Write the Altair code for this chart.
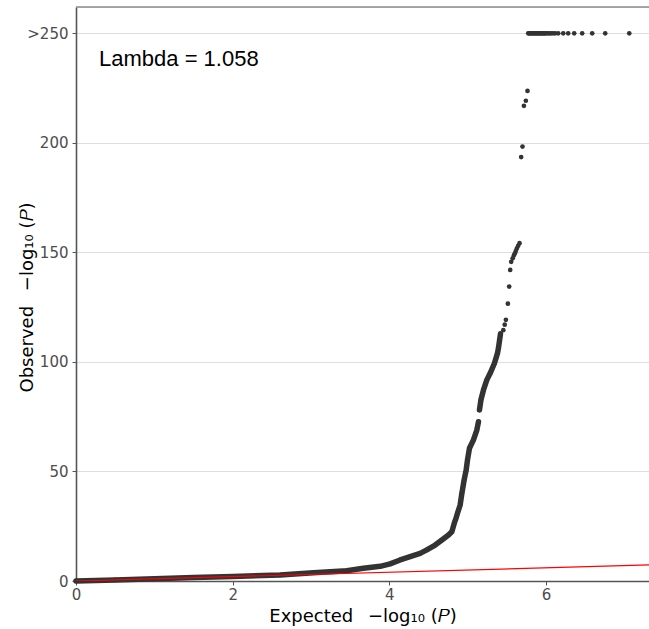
import altair as alt
import pandas as pd

# Expected vs observed -log10(P) along the densely packed part of the QQ curve
trace_x = [0.0, 0.5, 1.0, 1.5, 2.0, 2.605, 3.031, 3.457, 3.669, 3.883, 4.010, 4.138,
           4.266, 4.393, 4.479, 4.585, 4.671, 4.755, 4.798, 4.830, 4.850, 4.870, 4.904,
           4.926, 4.955, 4.981, 4.998, 5.023, 5.074, 5.117, 5.138,
           5.151, 5.169, 5.202, 5.245, 5.287, 5.342, 5.381, 5.393, 5.419]
trace_y = [0.0, 0.5, 1.05, 1.6, 2.1, 2.74, 3.79, 4.70, 5.8, 6.7, 7.8, 9.6,
           11.1, 12.6, 14.2, 16.4, 18.7, 21.0, 22.5, 26.5, 28.5, 30.9, 34.7,
           40.0, 46.1, 50.7, 55.3, 60.6, 64.4, 68.9, 72.7,
           78.1, 82.6, 87.2, 91.8, 94.8, 99.4, 104.0, 106.3, 112.8]
trace_seg = [1] * 31 + [2] * 9

# Individually visible strong signals
dot_x = [5.455, 5.473, 5.488, 5.513, 5.530, 5.543, 5.556, 5.575, 5.590, 5.603, 5.615,
         5.628, 5.645, 5.662, 5.683, 5.700, 5.718, 5.743, 5.764]
dot_y = [114.5, 117.0, 119.2, 126.6, 134.4, 142.0, 145.7, 147.3, 148.6, 149.6, 150.6,
         151.8, 153.0, 154.2, 193.5, 198.3, 216.9, 219.2, 223.7]

# Signals beyond the cap, shown at the ">250" line
cap_x = [5.773, 5.786, 5.798, 5.811, 5.824, 5.837, 5.850, 5.862, 5.875, 5.888, 5.900,
         5.913, 5.926, 5.939, 5.952, 5.964, 5.977, 5.990, 6.005, 6.028, 6.045, 6.066,
         6.090, 6.117, 6.156, 6.220, 6.283, 6.360, 6.462, 6.590, 6.756, 7.063]
CAP = 250

y_ticks = [0, 50, 100, 150, 200, 250]
x_ticks = [0, 2, 4, 6]
X_MAX = 7.315
Y_MAX = 262

lambda_label = "Lambda = 1.058"

trace_df = pd.DataFrame({"x": trace_x, "y": trace_y, "seg": trace_seg})
dots_df = pd.DataFrame({"x": trace_x + dot_x + cap_x,
                        "y": trace_y + dot_y + [CAP] * len(cap_x)})
diag_df = pd.DataFrame({"x": [0, X_MAX], "y": [0, X_MAX]})
text_df = pd.DataFrame({"x": [0.294], "y": [235.0], "t": [lambda_label]})

AX_COLOR = "#555555"
x_scale = alt.Scale(domain=[0, X_MAX], nice=False, zero=False)
y_scale = alt.Scale(domain=[0, Y_MAX], nice=False, zero=False)

x_enc = alt.X("x:Q", scale=x_scale, axis=alt.Axis(
    values=x_ticks, format="d", grid=False, labelFlush=False,
    title="Expected \u2002\u2212log\u2081\u2080 (\U0001D443)",
    domainColor=AX_COLOR, domainWidth=1.6, tickColor=AX_COLOR, tickSize=4,
    labelFont="DejaVu Sans", labelFontSize=15, labelColor="#4d4d4d", labelPadding=2,
    titleFont="DejaVu Sans", titleFontSize=18, titleFontWeight="normal",
    titleColor="black", titleBaseline="alphabetic", titleY=40))
y_enc = alt.Y("y:Q", scale=y_scale, axis=alt.Axis(
    values=y_ticks, grid=True, gridColor="#dedede", gridWidth=1, labelFlush=False,
    labelExpr="datum.value == 250 ? '>250' : datum.label",
    title="Observed \u2002\u2212log\u2081\u2080 (\U0001D443)",
    domainColor=AX_COLOR, domainWidth=1.6, tickColor=AX_COLOR, tickSize=4,
    labelFont="DejaVu Sans", labelFontSize=15, labelColor="#4d4d4d", labelPadding=4,
    titleFont="DejaVu Sans", titleFontSize=18, titleFontWeight="normal",
    titleColor="black", titleAngle=270, titleBaseline="middle", titleAlign="center",
    titleX=-49, titleY=290))

band = alt.Chart(trace_df).mark_line(
    color="#333333", strokeWidth=5.5, strokeCap="round", strokeJoin="round"
).encode(x=x_enc, y=y_enc, detail="seg:N")

dots = alt.Chart(dots_df).mark_circle(color="#333333", size=22, opacity=1).encode(
    x=alt.X("x:Q", scale=x_scale), y=alt.Y("y:Q", scale=y_scale))

diag = alt.Chart(diag_df).mark_line(color="#ff0000", strokeWidth=1.2, clip=True).encode(
    x=alt.X("x:Q", scale=x_scale), y=alt.Y("y:Q", scale=y_scale))

label = alt.Chart(text_df).mark_text(
    align="left", baseline="alphabetic", font="Liberation Sans", fontSize=22, color="black"
).encode(x=alt.X("x:Q", scale=x_scale), y=alt.Y("y:Q", scale=y_scale), text="t:N")

top_border = alt.Chart(text_df).mark_rule(color="#8c8c8c", strokeWidth=1.5).encode(
    x=alt.value(0), x2=alt.value(573), y=alt.value(0))

chart = alt.layer(band, dots, diag, label, top_border).properties(
    width=573, height=574,
    autosize=alt.AutoSizeParams(type="none"),
    padding={"left": 76, "top": 7, "right": 0, "bottom": 48},
).configure_view(stroke=None).configure(background="white")

chart.save("out.html", embed_options={"renderer": "svg", "actions": False})
